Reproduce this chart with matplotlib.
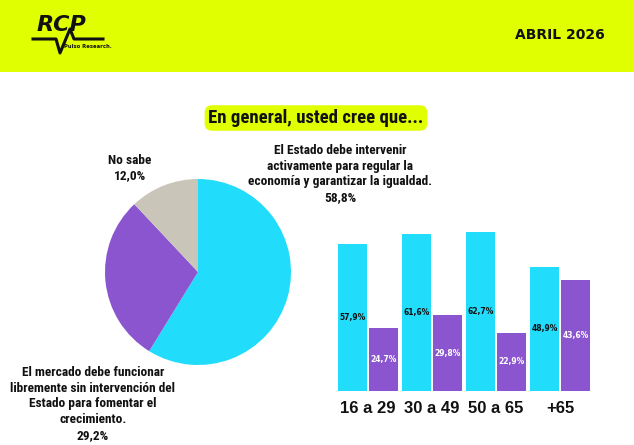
import matplotlib.pyplot as plt
from matplotlib.patches import Rectangle
from matplotlib.lines import Line2D

# datos
pie_labels = ["El Estado debe intervenir\nactivamente para regular la\neconomía y garantizar la igualdad.",
              "El mercado debe funcionar\nlibremente sin intervención del\nEstado para fomentar el\ncrecimiento.",
              "No sabe"]
pie_values = [58.8, 29.2, 12.0]
pie_colors = ["#22dcfb", "#8a55cf", "#c9c5b9"]

age_groups = ["16 a 29", "30 a 49", "50 a 65", "+65"]
estado_vals = [57.9, 61.6, 62.7, 48.9]
mercado_vals = [24.7, 29.8, 22.9, 43.6]

W, H = 634, 445
fig = plt.figure(figsize=(W / 100, H / 100), dpi=100)
fig.patch.set_facecolor("white")

def fx(px):
    return px / W

def fy(py):
    return 1 - py / H

def pct(v):
    return f"{v:.1f}%".replace(".", ",")

lime = "#e0ff00"
cond = ["Roboto Condensed", "Roboto", "DejaVu Sans"]

# franja superior
fig.patches.append(Rectangle((0, fy(72)), 1, 72 / H, transform=fig.transFigure,
                             facecolor=lime, edgecolor="none", zorder=0))
fig.text(fx(61), fy(25), "RCP", fontsize=16, fontweight="heavy", style="italic",
         ha="center", va="center", color="#111111")
fig.lines.append(Line2D([fx(33), fx(56), fx(60), fx(70), fx(74), fx(103)],
                        [fy(39), fy(39), fy(53), fy(29), fy(39), fy(39)],
                        transform=fig.transFigure, color="#111111", lw=2.2))
fig.text(fx(64), fy(47), "Pulso Research.", fontsize=3.8, fontweight="bold",
         ha="left", va="center", color="#111111")
fig.text(fx(605), fy(35), "ABRIL 2026", fontsize=10, fontweight="bold",
         ha="right", va="center", color="#111111")

# titulo
fig.text(fx(316), fy(118), "En general, usted cree que...", fontsize=13.5,
         fontweight="bold", family=cond, ha="center", va="center", color="#111111",
         bbox=dict(boxstyle="round,pad=0.2,rounding_size=0.4", facecolor=lime, edgecolor="none"))

# torta
ax1 = fig.add_axes([fx(105), fy(365), 186 / W, 186 / H])
ax1.pie(pie_values, colors=pie_colors, startangle=90, counterclock=False,
        wedgeprops=dict(edgecolor="none"))
ax1.set_aspect("equal")
ax1.set_xlim(-1, 1)
ax1.set_ylim(-1, 1)

lbl = dict(fontsize=9.6, fontweight="bold", family=cond, ha="center", va="center",
           linespacing=1.27, color="#111111")
fig.text(fx(340), fy(174), pie_labels[0] + "\n" + pct(pie_values[0]), **lbl)
fig.text(fx(93), fy(404), pie_labels[1] + "\n" + pct(pie_values[1]), **lbl)
fig.text(fx(130), fy(168), pie_labels[2] + "\n" + pct(pie_values[2]), **lbl)

# barras por edad
ax2 = fig.add_axes([fx(336), fy(391), 256 / W, 171 / H])
x = list(range(len(age_groups)))
bw = 0.45
b1 = ax2.bar([i - 0.24 for i in x], estado_vals, width=bw, color=pie_colors[0])
b2 = ax2.bar([i + 0.24 for i in x], mercado_vals, width=bw, color=pie_colors[1])
for r, v in zip(b1, estado_vals):
    ax2.text(r.get_x() + r.get_width() / 2, v / 2, pct(v),
             ha="center", va="center", fontsize=5.5, fontweight="bold", color="#111111")
for r, v in zip(b2, mercado_vals):
    ax2.text(r.get_x() + r.get_width() / 2, v / 2, pct(v),
             ha="center", va="center", fontsize=5.5, fontweight="bold", color="white")
ax2.set_xlim(-0.5, 3.5)
ax2.set_ylim(0, 67.3)
ax2.set_xticks(x)
ax2.set_xticklabels(age_groups, fontsize=12, fontweight="bold", family="Liberation Sans",
                    color="#111111")
ax2.tick_params(axis="x", length=0, pad=7)
ax2.set_yticks([])
for s in ax2.spines.values():
    s.set_visible(False)
ax2.patch.set_alpha(0)

fig.savefig("out.png", dpi=100)
